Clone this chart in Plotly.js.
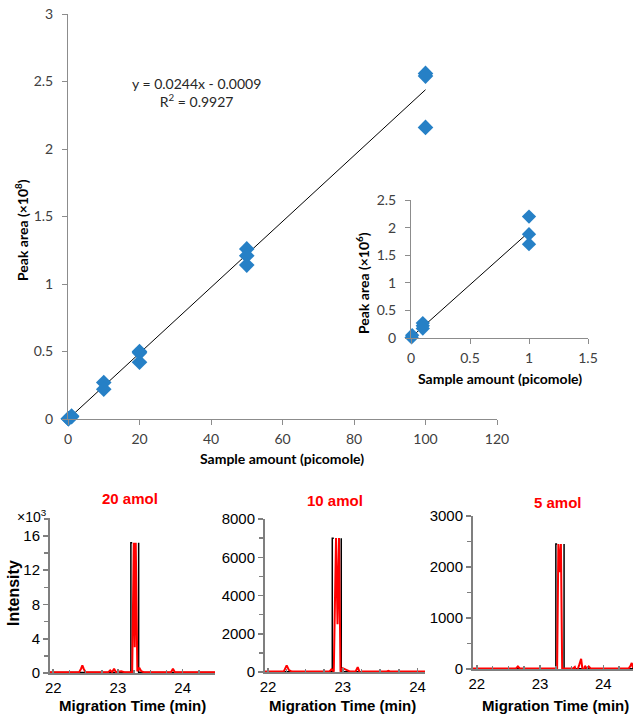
<!DOCTYPE html>
<html><head><meta charset="utf-8">
<script src="https://cdn.plot.ly/plotly-3.0.1.min.js"></script>
<style>html,body{margin:0;padding:0;background:#fff}#chart{width:643px;height:720px}</style>
</head><body><div id="chart"></div>
<script>
// ---- Calibration curve (main) : x in picomole, y in x10^8 ----
const mainX = [0.1, 0.1, 1, 1, 10, 10, 20, 20, 20, 50, 50, 50, 100, 100, 100];
const mainY = [0.002, 0.0022, 0.017, 0.022, 0.27, 0.22, 0.50, 0.49, 0.42, 1.26, 1.21, 1.14, 2.56, 2.54, 2.16];
const mainTrendX = [0, 100];
const mainTrendY = [-0.0009, 2.4391];
const eqText = "y = 0.0244x - 0.0009<br>R<sup>2</sup> = 0.9927";
const mainXTicks = [0, 20, 40, 60, 80, 100, 120];
const mainYTicks = [0, 0.5, 1, 1.5, 2, 2.5, 3];

// ---- Inset : x in picomole, y in x10^6 ----
const insetX = [0.005, 0.01, 0.1, 0.1, 0.1, 1, 1, 1];
const insetY = [0.01, 0.05, 0.27, 0.22, 0.17, 2.2, 1.88, 1.7];
const insetTrendX = [0, 1];
const insetTrendY = [0.01, 1.92];
const insetXTicks = [0, 0.5, 1, 1.5];
const insetYTicks = [0, 0.5, 1, 1.5, 2, 2.5];

// ---- Electropherograms ----
const p1Title = "20 amol";
const p1RedX = [21.95, 22.40, 22.43, 22.45, 22.47, 22.50, 22.85, 22.88, 22.91, 22.94, 22.97, 23.05, 23.10, 23.22, 23.245, 23.26, 23.275, 23.30, 23.33, 23.36, 23.40, 23.82, 23.85, 23.88, 24.50];
const p1RedY = [0.1, 0.1, 0.5, 0.9, 0.5, 0.1, 0.1, 0.3, 0.1, 0.5, 0.1, 0.2, 0.1, 0.1, 15.2, 3.0, 15.2, 0.2, 0.6, 0.2, 0.1, 0.1, 0.5, 0.1, 0.1];
const p1BlackX = [21.95, 23.20, 23.20, 23.22, null, 23.32, 23.32, 24.50];
const p1BlackY = [0.05, 0.05, 15.2, 15.2, null, 15.2, 0.05, 0.05];

const p2Title = "10 amol";
const p2RedX = [21.96, 22.21, 22.25, 22.28, 22.32, 22.82, 22.85, 22.88, 22.91, 22.93, 22.95, 22.97, 23.00, 23.05, 23.10, 23.17, 23.20, 23.23, 23.26, 23.58, 23.61, 23.64, 23.84, 23.87, 23.90, 24.10];
const p2RedY = [20, 20, 350, 100, 20, 20, 150, 20, 7000, 2500, 7000, 20, 200, 100, 20, 20, 250, -50, 20, 20, 60, 20, 20, 50, 20, 20];
const p2BlackX = [21.96, 22.86, 22.86, 22.88, null, 22.98, 22.98, 24.10];
const p2BlackY = [10, 10, 7000, 7000, null, 7000, 10, 10];

const p3Title = "5 amol";
const p3RedX = [21.94, 22.62, 22.65, 22.68, 23.27, 23.29, 23.31, 23.33, 23.35, 23.37, 23.52, 23.55, 23.58, 23.62, 23.65, 23.68, 23.71, 23.74, 23.77, 23.80, 23.83, 24.40, 24.43, 24.45, 24.47];
const p3RedY = [10, 10, 50, 10, 10, 2450, 1900, 2450, 10, 10, 10, 40, -60, 80, 200, -100, 60, 10, 50, 10, 10, 10, 60, 120, 20];
const p3BlackX = [21.94, 23.25, 23.25, 23.27, null, 23.38, 23.38, 24.47];
const p3BlackY = [5, 5, 2450, 2450, null, 2450, 5, 5];

// ---- layout helpers (pixel -> paper) ----
const W = 643, H = 720;
const fx = p => p / W, fy = p => 1 - p / H;

const excelFam = "Lato, 'Noto Sans', sans-serif";
const arialFam = "'Liberation Sans', Arial, sans-serif";
const excelFont = {family: excelFam, size: 14, color: "#404040"};
const arialY = {family: arialFam, size: 15, color: "#000"};
const arialX = {family: arialFam, size: 15, color: "#000"};
const blue = "#2680C6";

const traces = [
  {x: mainTrendX, y: mainTrendY, mode: "lines", line: {color: "#000", width: 1}, xaxis: "x", yaxis: "y"},
  {x: mainX, y: mainY, mode: "markers", marker: {symbol: "diamond", size: 12, color: blue}, xaxis: "x", yaxis: "y", cliponaxis: false},
  {x: insetTrendX, y: insetTrendY, mode: "lines", line: {color: "#000", width: 1}, xaxis: "x2", yaxis: "y2"},
  {x: insetX, y: insetY, mode: "markers", marker: {symbol: "diamond", size: 11, color: blue}, xaxis: "x2", yaxis: "y2", cliponaxis: false},
  {x: p1BlackX, y: p1BlackY, mode: "lines", line: {color: "#000", width: 1.5}, xaxis: "x3", yaxis: "y3", connectgaps: false},
  {x: p1RedX, y: p1RedY, mode: "lines", line: {color: "#ff0000", width: 2}, xaxis: "x3", yaxis: "y3"},
  {x: p2BlackX, y: p2BlackY, mode: "lines", line: {color: "#000", width: 1.5}, xaxis: "x4", yaxis: "y4", connectgaps: false},
  {x: p2RedX, y: p2RedY, mode: "lines", line: {color: "#ff0000", width: 2}, xaxis: "x4", yaxis: "y4"},
  {x: p3BlackX, y: p3BlackY, mode: "lines", line: {color: "#000", width: 1.5}, xaxis: "x5", yaxis: "y5", connectgaps: false},
  {x: p3RedX, y: p3RedY, mode: "lines", line: {color: "#ff0000", width: 2}, xaxis: "x5", yaxis: "y5"}
];

const excelAxis = (extra) => Object.assign({
  showline: true, linecolor: "#8c8c8c", linewidth: 1, ticks: "outside", ticklen: 5, tickcolor: "#8c8c8c",
  showgrid: false, zeroline: false, tickfont: excelFont
}, extra);

const specAxisX = (extra) => Object.assign({
  showline: true, linecolor: "#7f7f7f", linewidth: 2, ticks: "inside", ticklen: 4, tickcolor: "#7f7f7f", tickwidth: 1.5,
  showgrid: false, zeroline: false, tickfont: arialX, dtick: 1, tick0: 22,
  minor: {dtick: 0.25, ticks: "inside", ticklen: 3, tickcolor: "#7f7f7f", showgrid: false}
}, extra);
const specAxisY = (extra) => Object.assign({
  showline: true, linecolor: "#7f7f7f", linewidth: 2, ticks: "outside", ticklen: 5, tickcolor: "#7f7f7f", tickwidth: 1.5,
  showgrid: false, zeroline: false, tickfont: arialY
}, extra);

const ann = (text, px, py, font, extra) => Object.assign({
  text: text, x: fx(px), y: fy(py), xref: "paper", yref: "paper", showarrow: false,
  xanchor: "center", yanchor: "middle", font: font
}, extra || {});

const layout = {
  width: W, height: H, margin: {l: 0, r: 0, t: 0, b: 0}, showlegend: false,
  paper_bgcolor: "#fff", plot_bgcolor: "rgba(0,0,0,0)",
  xaxis: excelAxis({domain: [fx(68), fx(497)], range: [0, 120], tickvals: mainXTicks, anchor: "y", ticklabelstandoff: 2}),
  yaxis: excelAxis({domain: [fy(419), fy(14)], range: [0, 3], tickvals: mainYTicks, anchor: "x", ticklabelstandoff: 6}),
  xaxis2: excelAxis({domain: [fx(411), fx(588)], range: [0, 1.5], tickvals: insetXTicks, anchor: "y2", ticklabelstandoff: 2}),
  yaxis2: excelAxis({domain: [fy(338), fy(200)], range: [0, 2.5], tickvals: insetYTicks, anchor: "x2", ticklabelstandoff: 6}),
  xaxis3: specAxisX({domain: [fx(50), fx(215)], range: [21.95, 24.5], anchor: "y3"}),
  yaxis3: specAxisY({domain: [fy(673), fy(518)], range: [0, 18.1], dtick: 4, minor: {dtick: 2, ticks: "outside", ticklen: 4, tickcolor: "#7f7f7f"}, anchor: "x3"}),
  xaxis4: specAxisX({domain: [fx(265), fx(425)], range: [21.96, 24.1], anchor: "y4"}),
  yaxis4: specAxisY({domain: [fy(672), fy(519)], range: [0, 8000], dtick: 2000, minor: {dtick: 1000, ticks: "outside", ticklen: 4, tickcolor: "#7f7f7f"}, anchor: "x4"}),
  xaxis5: specAxisX({domain: [fx(473), fx(633)], range: [21.94, 24.47], anchor: "y5"}),
  yaxis5: specAxisY({domain: [fy(669), fy(516)], range: [0, 3000], dtick: 1000, minor: {dtick: 500, ticks: "outside", ticklen: 4, tickcolor: "#7f7f7f"}, anchor: "x5"}),
  annotations: [
    ann(eqText, 196, 93, {family: excelFam, size: 14, color: "#262626"}, {align: "center"}),
    ann("<b>Peak area (×10<sup>8</sup>)</b>", 22, 230, {family: excelFam, size: 14, color: "#000"}, {textangle: -90}),
    ann("<b>Sample amount (picomole)</b>", 282, 458, {family: excelFam, size: 14, color: "#000"}),
    ann("<b>Peak area (×10<sup>6</sup>)</b>", 363, 283, {family: excelFam, size: 14, color: "#000"}, {textangle: -90}),
    ann("<b>Sample amount (picomole)</b>", 500, 378, {family: excelFam, size: 14, color: "#000"}),
    ann("<b>" + p1Title + "</b>", 130, 498, {family: arialFam, size: 15, color: "#ff0000"}),
    ann("<b>" + p2Title + "</b>", 335, 500, {family: arialFam, size: 15, color: "#ff0000"}),
    ann("<b>" + p3Title + "</b>", 558, 502, {family: arialFam, size: 15, color: "#ff0000"}),
    ann("×10<sup>3</sup>", 49, 516, {family: arialFam, size: 14, color: "#000"}, {xanchor: "right"}),
    ann("<b>Intensity</b>", 13, 593, {family: arialFam, size: 16, color: "#000"}, {textangle: -90}),
    ann("<b>Migration Time (min)</b>", 132, 705, {family: arialFam, size: 15, color: "#000"}),
    ann("<b>Migration Time (min)</b>", 342, 705, {family: arialFam, size: 15, color: "#000"}),
    ann("<b>Migration Time (min)</b>", 555, 705, {family: arialFam, size: 15, color: "#000"})
  ]
};

Plotly.newPlot("chart", traces, layout, {staticPlot: true, displayModeBar: false});
</script>
</body></html>
